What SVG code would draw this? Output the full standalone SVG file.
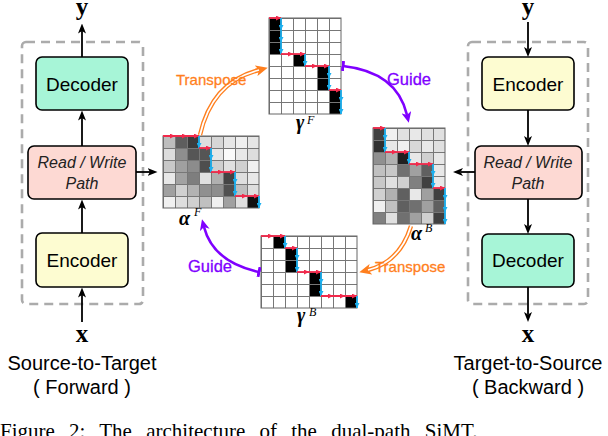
<svg xmlns="http://www.w3.org/2000/svg" width="608" height="436" viewBox="0 0 608 436">
<defs>
<style>
.box{stroke:#000;stroke-width:1.6}
.dash{fill:none;stroke:#ababab;stroke-width:2.6;stroke-dasharray:9 6}
.t{font-family:"Liberation Sans",Arial,sans-serif;text-anchor:middle;fill:#000}
.big{font-size:19px}
.rw{font-size:16px;font-style:italic;fill:#222}
.cap{font-size:20px}
.m{font-family:"Liberation Serif",serif;font-weight:bold;font-size:25px;text-anchor:middle}
.g{font-family:"Liberation Serif",serif;font-weight:bold;font-style:italic;font-size:20px}
.sup{font-family:"Liberation Serif",serif;font-style:italic;font-size:12px}
.flow{stroke:#000;stroke-width:1.8;fill:none;marker-end:url(#ah)}
.red{stroke:#f2294b;stroke-width:1.8;fill:none;marker-mid:url(#ra);marker-end:url(#ra)}
.blue{stroke:#1cb0ef;stroke-width:1.8;fill:none;marker-mid:url(#ba);marker-end:url(#ba)}
.gl{fill:url(#grid)}
.bd{fill:none;stroke:#666;stroke-width:1}
.guide{stroke:#7f00ff;stroke-width:2.6;fill:none;marker-start:url(#tee);marker-end:url(#pa)}
.tro{stroke:#ff7f1e;stroke-width:4.4;fill:none}
.tri{stroke:#fff;stroke-width:1.8;fill:none}
.lo{font-family:"Liberation Sans",Arial,sans-serif;font-size:15px;fill:#ff7f1e;stroke:#ff7f1e;stroke-width:0.3}
.lp{font-family:"Liberation Sans",Arial,sans-serif;font-size:16.5px;fill:#7f00ff;stroke:#7f00ff;stroke-width:0.3}
.fig{font-family:"Liberation Serif",serif;font-size:21px;word-spacing:9px}
</style>
<pattern id="grid" width="12" height="12" patternUnits="userSpaceOnUse"><path d="M0,0.5H12M0.5,0V12" stroke="#777" stroke-width="1" fill="none"/></pattern>
<marker id="ah" viewBox="0 0 10 8" refX="2.5" refY="4" markerWidth="10" markerHeight="8" markerUnits="userSpaceOnUse" orient="auto"><path d="M0,0L10,4L0,8L2.5,4z" fill="#000"/></marker>
<marker id="ra" viewBox="0 0 5 5" refX="5" refY="2.5" markerWidth="5" markerHeight="5" markerUnits="userSpaceOnUse" orient="auto"><path d="M0,0L5,2.5L0,5z" fill="#f2294b"/></marker>
<marker id="ba" viewBox="0 0 5 5" refX="5" refY="2.5" markerWidth="5" markerHeight="5" markerUnits="userSpaceOnUse" orient="auto"><path d="M0,0L5,2.5L0,5z" fill="#1cb0ef"/></marker>
<marker id="pa" viewBox="0 0 11 10" refX="3" refY="5" markerWidth="11" markerHeight="10" markerUnits="userSpaceOnUse" orient="auto"><path d="M0,0L11,5L0,10L3,5z" fill="#7f00ff"/></marker>
<marker id="tee" viewBox="0 0 3 10" refX="1.5" refY="5" markerWidth="3" markerHeight="10" markerUnits="userSpaceOnUse" orient="auto"><rect x="0" y="0" width="3" height="10" fill="#7f00ff"/></marker>
<marker id="oa" viewBox="0 0 12 11" refX="3" refY="5.5" markerWidth="12" markerHeight="11" markerUnits="userSpaceOnUse" orient="auto"><path d="M0,0L12,5.5L0,11L3,5.5z" fill="#ff7f1e"/></marker>
</defs>
<rect width="608" height="436" fill="#fff"/>

<g id="forward-panel">
<rect class="dash" x="22" y="42" width="121" height="262" rx="4"/>
</g>
<g id="backward-panel">
<rect class="dash" x="468" y="42" width="120" height="262" rx="4"/>
</g>

<g id="f-decoder"><rect class="box" x="36" y="57" width="92" height="53" rx="6" fill="#a7f5d7"/><text class="t big" x="82" y="91">Decoder</text></g>
<g id="f-path"><rect class="box" x="28" y="146" width="108" height="53" rx="6" fill="#fdd9d3"/><text class="t rw" x="82" y="168">Read / Write</text><text class="t rw" x="82" y="189">Path</text></g>
<g id="f-encoder"><rect class="box" x="36" y="233" width="92" height="54" rx="6" fill="#fdfcd1"/><text class="t big" x="82" y="267">Encoder</text></g>
<g id="f-y"><text class="m" x="82" y="15">y</text></g>
<g id="f-x"><text class="m" x="82" y="342">x</text></g>
<g id="f-caption"><text class="t cap" x="82" y="370">Source-to-Target</text><text class="t cap" x="82" y="394">( Forward )</text></g>

<g id="b-encoder"><rect class="box" x="482" y="57" width="92" height="53" rx="6" fill="#fdfcd1"/><text class="t big" x="528" y="91">Encoder</text></g>
<g id="b-path"><rect class="box" x="475" y="146" width="107" height="53" rx="6" fill="#fdd9d3"/><text class="t rw" x="528" y="168">Read / Write</text><text class="t rw" x="528" y="189">Path</text></g>
<g id="b-decoder"><rect class="box" x="482" y="234" width="92" height="53" rx="6" fill="#a7f5d7"/><text class="t big" x="528" y="267">Decoder</text></g>
<g id="b-y"><text class="m" x="528" y="15">y</text></g>
<g id="b-x"><text class="m" x="528" y="342">x</text></g>
<g id="b-caption"><text class="t cap" x="528" y="370">Target-to-Source</text><text class="t cap" x="528" y="394">( Backward )</text></g>

<g id="alpha-F" transform="translate(163,136)">
<rect x="0" y="0" width="12" height="12" fill="#bdbdbd"/><rect x="12" y="0" width="12" height="12" fill="#5e5e5e"/><rect x="24" y="0" width="12" height="12" fill="#3c3c3c"/><rect x="36" y="0" width="12" height="12" fill="#dedede"/><rect x="48" y="0" width="12" height="12" fill="#d6d6d6"/><rect x="60" y="0" width="12" height="12" fill="#e6e6e6"/><rect x="72" y="0" width="12" height="12" fill="#efefef"/><rect x="84" y="0" width="12" height="12" fill="#e6e6e6"/>
<rect x="0" y="12" width="12" height="12" fill="#dcdcdc"/><rect x="12" y="12" width="12" height="12" fill="#8e8e8e"/><rect x="24" y="12" width="12" height="12" fill="#565656"/><rect x="36" y="12" width="12" height="12" fill="#555"/><rect x="48" y="12" width="12" height="12" fill="#e6e6e6"/><rect x="60" y="12" width="12" height="12" fill="#fafafa"/><rect x="72" y="12" width="12" height="12" fill="#e8e8e8"/><rect x="84" y="12" width="12" height="12" fill="#ddd"/>
<rect x="0" y="24" width="12" height="12" fill="#c8c8c8"/><rect x="12" y="24" width="12" height="12" fill="#a0a0a0"/><rect x="24" y="24" width="12" height="12" fill="#8c8c8c"/><rect x="36" y="24" width="12" height="12" fill="#4e4e4e"/><rect x="48" y="24" width="12" height="12" fill="#cfcfcf"/><rect x="60" y="24" width="12" height="12" fill="#e0e0e0"/><rect x="72" y="24" width="12" height="12" fill="#d0d0d0"/><rect x="84" y="24" width="12" height="12" fill="#f0f0f0"/>
<rect x="0" y="36" width="12" height="12" fill="#e8e8e8"/><rect x="12" y="36" width="12" height="12" fill="#a2a2a2"/><rect x="24" y="36" width="12" height="12" fill="#7e7e7e"/><rect x="36" y="36" width="12" height="12" fill="#e0e0e0"/><rect x="48" y="36" width="12" height="12" fill="#b0b0b0"/><rect x="60" y="36" width="12" height="12" fill="#444"/><rect x="72" y="36" width="12" height="12" fill="#dedede"/><rect x="84" y="36" width="12" height="12" fill="#e8e8e8"/>
<rect x="0" y="48" width="12" height="12" fill="#a0a0a0"/><rect x="12" y="48" width="12" height="12" fill="#d0d0d0"/><rect x="24" y="48" width="12" height="12" fill="#b2b2b2"/><rect x="36" y="48" width="12" height="12" fill="#909090"/><rect x="48" y="48" width="12" height="12" fill="#8e8e8e"/><rect x="60" y="48" width="12" height="12" fill="#505050"/><rect x="72" y="48" width="12" height="12" fill="#bebebe"/><rect x="84" y="48" width="12" height="12" fill="#dedede"/>
<rect x="0" y="60" width="12" height="12" fill="#f0f0f0"/><rect x="12" y="60" width="12" height="12" fill="#dedede"/><rect x="24" y="60" width="12" height="12" fill="#d0d0d0"/><rect x="36" y="60" width="12" height="12" fill="#c0c0c0"/><rect x="48" y="60" width="12" height="12" fill="#f0f0f0"/><rect x="60" y="60" width="12" height="12" fill="#a0a0a0"/><rect x="72" y="60" width="12" height="12" fill="#e0e0e0"/><rect x="84" y="60" width="12" height="12" fill="#111"/>
<rect class="gl" x="0" y="0" width="96" height="72"/><rect class="bd" x="0" y="0" width="96" height="72"/>
<polyline class="red" points="0,0 12,0 24,0 36,0"/><polyline class="blue" points="36,0 36,12"/>
<polyline class="red" points="36,12 48,12"/><polyline class="blue" points="48,12 48,24 48,36"/>
<polyline class="red" points="48,36 60,36 72,36"/><polyline class="blue" points="72,36 72,48 72,60"/>
<polyline class="red" points="72,60 84,60 96,60"/><polyline class="blue" points="96,60 96,72"/>
<text class="g" x="16" y="89">α</text><text class="sup" x="31" y="80">F</text>
</g>

<g id="gamma-F" transform="translate(269,18)">
<rect x="0" y="0" width="72" height="96" fill="#fff"/>
<rect x="0" y="0" width="12" height="36" fill="#000"/><rect x="24" y="36" width="12" height="12" fill="#000"/><rect x="48" y="48" width="12" height="24" fill="#000"/><rect x="60" y="72" width="12" height="24" fill="#000"/>
<rect class="gl" x="0" y="0" width="72" height="96"/><rect class="bd" x="0" y="0" width="72" height="96"/>
<polyline class="red" points="0,0 12,0"/><polyline class="blue" points="12,0 12,12 12,24 12,36"/>
<polyline class="red" points="12,36 24,36 36,36"/><polyline class="blue" points="36,36 36,48"/>
<polyline class="red" points="36,48 48,48 60,48"/><polyline class="blue" points="60,48 60,60 60,72"/>
<polyline class="red" points="60,72 72,72"/><polyline class="blue" points="72,72 72,84 72,96"/>
<text class="g" x="27" y="111">γ</text><text class="sup" x="38" y="106">F</text>
</g>

<g id="alpha-B" transform="translate(373,128)">
<rect x="0" y="0" width="12" height="12" fill="#404040"/><rect x="12" y="0" width="12" height="12" fill="#f0f0f0"/><rect x="24" y="0" width="12" height="12" fill="#e0e0e0"/><rect x="36" y="0" width="12" height="12" fill="#e8e8e8"/><rect x="48" y="0" width="12" height="12" fill="#e0e0e0"/><rect x="60" y="0" width="12" height="12" fill="#e0e0e0"/>
<rect x="0" y="12" width="12" height="12" fill="#303030"/><rect x="12" y="12" width="12" height="12" fill="#e8e8e8"/><rect x="24" y="12" width="12" height="12" fill="#f0f0f0"/><rect x="36" y="12" width="12" height="12" fill="#d8d8d8"/><rect x="48" y="12" width="12" height="12" fill="#e8e8e8"/><rect x="60" y="12" width="12" height="12" fill="#e0e0e0"/>
<rect x="0" y="24" width="12" height="12" fill="#909090"/><rect x="12" y="24" width="12" height="12" fill="#b0b0b0"/><rect x="24" y="24" width="12" height="12" fill="#202020"/><rect x="36" y="24" width="12" height="12" fill="#e8e8e8"/><rect x="48" y="24" width="12" height="12" fill="#d0d0d0"/><rect x="60" y="24" width="12" height="12" fill="#e8e8e8"/>
<rect x="0" y="36" width="12" height="12" fill="#c0c0c0"/><rect x="12" y="36" width="12" height="12" fill="#c8c8c8"/><rect x="24" y="36" width="12" height="12" fill="#707070"/><rect x="36" y="36" width="12" height="12" fill="#a0a0a0"/><rect x="48" y="36" width="12" height="12" fill="#606060"/><rect x="60" y="36" width="12" height="12" fill="#e8e8e8"/>
<rect x="0" y="48" width="12" height="12" fill="#c8c8c8"/><rect x="12" y="48" width="12" height="12" fill="#e0e0e0"/><rect x="24" y="48" width="12" height="12" fill="#d0d0d0"/><rect x="36" y="48" width="12" height="12" fill="#808080"/><rect x="48" y="48" width="12" height="12" fill="#404040"/><rect x="60" y="48" width="12" height="12" fill="#e8e8e8"/>
<rect x="0" y="60" width="12" height="12" fill="#d0d0d0"/><rect x="12" y="60" width="12" height="12" fill="#b0b0b0"/><rect x="24" y="60" width="12" height="12" fill="#606060"/><rect x="36" y="60" width="12" height="12" fill="#e8e8e8"/><rect x="48" y="60" width="12" height="12" fill="#a0a0a0"/><rect x="60" y="60" width="12" height="12" fill="#404040"/>
<rect x="0" y="72" width="12" height="12" fill="#f0f0f0"/><rect x="12" y="72" width="12" height="12" fill="#c0c0c0"/><rect x="24" y="72" width="12" height="12" fill="#606060"/><rect x="36" y="72" width="12" height="12" fill="#707070"/><rect x="48" y="72" width="12" height="12" fill="#a0a0a0"/><rect x="60" y="72" width="12" height="12" fill="#606060"/>
<rect x="0" y="84" width="12" height="12" fill="#808080"/><rect x="12" y="84" width="12" height="12" fill="#e0e0e0"/><rect x="24" y="84" width="12" height="12" fill="#707070"/><rect x="36" y="84" width="12" height="12" fill="#a0a0a0"/><rect x="48" y="84" width="12" height="12" fill="#d0d0d0"/><rect x="60" y="84" width="12" height="12" fill="#404040"/>
<rect class="gl" x="0" y="0" width="72" height="96"/><rect class="bd" x="0" y="0" width="72" height="96"/>
<polyline class="red" points="0,0 12,0"/><polyline class="blue" points="12,0 12,12 12,24"/>
<polyline class="red" points="12,24 24,24 36,24"/><polyline class="blue" points="36,24 36,36"/>
<polyline class="red" points="36,36 48,36 60,36"/><polyline class="blue" points="60,36 60,48 60,60"/>
<polyline class="red" points="60,60 72,60"/><polyline class="blue" points="72,60 72,72 72,84 72,96"/>
<text class="g" x="38" y="112">α</text><text class="sup" x="52" y="104">B</text>
</g>

<g id="gamma-B" transform="translate(261,236)">
<rect x="0" y="0" width="96" height="72" fill="#fff"/>
<rect x="12" y="0" width="12" height="12" fill="#000"/><rect x="24" y="12" width="12" height="24" fill="#000"/><rect x="48" y="36" width="12" height="24" fill="#000"/><rect x="84" y="60" width="12" height="12" fill="#000"/>
<rect class="gl" x="0" y="0" width="96" height="72"/><rect class="bd" x="0" y="0" width="96" height="72"/>
<polyline class="red" points="0,0 12,0 24,0"/><polyline class="blue" points="24,0 24,12"/>
<polyline class="red" points="24,12 36,12"/><polyline class="blue" points="36,12 36,24 36,36"/>
<polyline class="red" points="36,36 48,36 60,36"/><polyline class="blue" points="60,36 60,48 60,60"/>
<polyline class="red" points="60,60 72,60 84,60 96,60"/><polyline class="blue" points="96,60 96,72"/>
<text class="g" x="36" y="86">γ</text><text class="sup" x="48" y="80">B</text>
</g>

<g id="connectors">
<path class="flow" d="M82,57V31"/>
<path class="flow" d="M82,146V118"/>
<path class="flow" d="M82,233V207"/>
<path class="flow" d="M82,322V295"/>
<path class="flow" d="M136,172H150"/>
<path class="flow" d="M528,22V49.5"/>
<path class="flow" d="M528,110V138.5"/>
<path class="flow" d="M528,199V226.5"/>
<path class="flow" d="M528,287V314.5"/>
<path class="flow" d="M475,172H460.5"/>
<path class="tro" d="M200,135Q212,82 259,70" marker-end="url(#oa)"/>
<path class="tri" d="M200,135Q212,82 259,70"/>
<path class="tro" d="M411,226Q400,262 368,270" marker-end="url(#oa)"/>
<path class="tri" d="M411,226Q400,262 368,270"/>
<path class="guide" d="M343,66Q397,72 407,115"/>
<path class="guide" d="M259,272Q213,262 204,227"/>
<text class="lo" x="176" y="85">Transpose</text>
<text class="lo" x="375" y="272">Transpose</text>
<text class="lp" x="387" y="85">Guide</text>
<text class="lp" x="188" y="272">Guide</text>
</g>

<text class="fig" x="0" y="438">Figure 2:  The architecture of the dual-path SiMT.</text>
</svg>
